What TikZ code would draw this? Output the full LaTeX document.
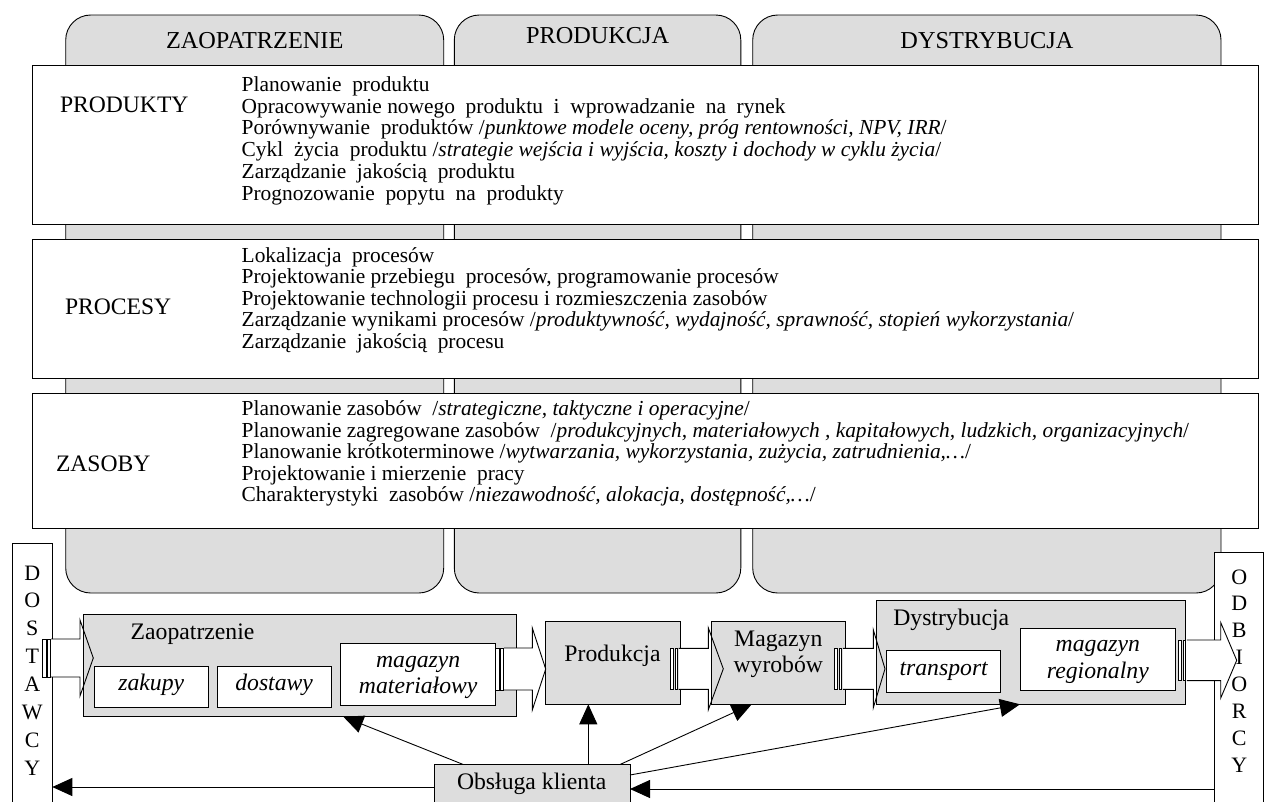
\documentclass[tikz,border=0pt]{standalone}
\usepackage{fontspec}
\setmainfont{Liberation Serif}
\usetikzlibrary{arrows.meta,calc}
\definecolor{pgray}{RGB}{221,221,221}
\newcommand\fbody{\fontsize{21.4}{21.5}\selectfont}
\newcommand\flab{\fontsize{23.6}{27}\selectfont}
\newcommand\fpan{\fontsize{24.3}{27}\selectfont}
\newcommand\fflow{\fontsize{23.7}{26}\selectfont}
\newcommand\blockarrow[5]{%
  \fill[white] let \p1=(#1), \p2=(#2) in (\x1+8.5pt,\y1+#3pt) rectangle (\x2-#5pt,\y1-#3pt);
  \draw[line join=miter] let \p1=(#1), \p2=(#2) in (\x1+8.5pt,\y1+#3pt) -- (\x2-#5pt,\y1+#3pt) -- (\x2-#5pt,\y1+#4pt) -- (\x2,\y1) -- (\x2-#5pt,\y1-#4pt) -- (\x2-#5pt,\y1-#3pt) -- (\x1+8.5pt,\y1-#3pt);
  \draw[fill=white] let \p1=(#1) in (\x1,\y1+#3pt) rectangle (\x1+3.5pt,\y1-#3pt) (\x1+5pt,\y1+#3pt) rectangle (\x1+7.5pt,\y1-#3pt);
}
\begin{document}
\begin{tikzpicture}[x=1pt,y=-1pt,line width=0.9pt,
  every node/.style={inner sep=0pt,outer sep=0pt},
  panel/.style={draw,fill=pgray,rounded corners=25pt},
  rowbox/.style={draw,fill=white},
  gbox/.style={draw,fill=pgray},
  wbox/.style={draw,fill=white},
  body/.style={anchor=base west,font=\fbody},
  rowlab/.style={anchor=base west,font=\flab},
  flow/.style={anchor=base,font=\fflow},
  iflow/.style={anchor=base,font=\fflow\itshape},
  arr/.style={-{Triangle[length=20pt,width=18pt]}}]
\useasboundingbox (0,0) rectangle (1264,801);
% column panels
\node[panel,minimum width=378pt,minimum height=578pt] (pz) at (254.7,304) {};
\node[panel,minimum width=286.5pt,minimum height=578pt] (pp) at (597.55,304) {};
\node[panel,minimum width=468.3pt,minimum height=578pt] (pd) at (986.85,304) {};
\node[anchor=base,font=\fpan] (tz) at (254.7,48.5) {ZAOPATRZENIE};
\node[anchor=base,font=\fpan] (tp) at (597.6,43.5) {PRODUKCJA};
\node[anchor=base,font=\fpan] (td) at (986.9,48.5) {DYSTRYBUCJA};
% row boxes
\node[rowbox,minimum width=1226pt,minimum height=159.5pt] (rprod) at (645.7,144.75) {};
\node[rowbox,minimum width=1226pt,minimum height=138.5pt] (rproc) at (645.7,308.75) {};
\node[rowbox,minimum width=1226pt,minimum height=135.5pt] (rzas) at (645.7,460.75) {};
\node[rowlab] (lprod) at (60,112.5) {PRODUKTY};
\node[rowlab] (lproc) at (65,314.7) {PROCESY};
\node[rowlab] (lzas) at (56,471) {ZASOBY};
% PRODUKTY lines
\node[body] (a1) at (241.7,91.5) {Planowanie~ produktu};
\node[body] (a2) at (241.7,113.2) {Opracowywanie nowego~ produktu~ i~ wprowadzanie~ na~ rynek};
\node[body] (a3) at (241.7,134.9) {Porównywanie~ produktów /\textit{punktowe modele oceny, próg rentowności, NPV, IRR}/};
\node[body] (a4) at (241.7,156.6) {Cykl~ życia~ produktu /\textit{strategie wejścia i wyjścia, koszty i dochody w cyklu życia}/};
\node[body] (a5) at (241.7,178.3) {Zarządzanie~ jakością~ produktu};
\node[body] (a6) at (241.7,200) {Prognozowanie~ popytu~ na~ produkty};
% PROCESY lines
\node[body] (b1) at (241.7,262) {Lokalizacja~ procesów};
\node[body] (b2) at (241.7,283.5) {Projektowanie przebiegu~ procesów, programowanie procesów};
\node[body] (b3) at (241.7,305) {Projektowanie technologii procesu i rozmieszczenia zasobów};
\node[body] (b4) at (241.7,326.5) {Zarządzanie wynikami procesów /\textit{produktywność, wydajność, sprawność, stopień wykorzystania}/};
\node[body] (b5) at (241.7,348) {Zarządzanie~ jakością~ procesu};
% ZASOBY lines
\node[body] (c1) at (241.7,415.5) {Planowanie zasobów~ /\textit{strategiczne, taktyczne i operacyjne}/};
\node[body] (c2) at (241.7,437) {Planowanie zagregowane zasobów~ /\textit{produkcyjnych, materiałowych , kapitałowych, ludzkich, organizacyjnych}/};
\node[body] (c3) at (241.7,458.5) {Planowanie krótkoterminowe /\textit{wytwarzania, wykorzystania, zużycia, zatrudnienia,…}/};
\node[body] (c4) at (241.7,480) {Projektowanie i mierzenie~ pracy};
\node[body] (c5) at (241.7,501.5) {Charakterystyki~ zasobów /\textit{niezawodność, alokacja, dostępność,…}/};
% side boxes
\node[wbox,minimum width=40pt,minimum height=262pt] (dost) at (32.3,674) {};
\node[align=center,font=\fontsize{22}{27.9}\selectfont] (dostt) at (32.3,670.5) {D\\O\\S\\T\\A\\W\\C\\Y};
\node[wbox,minimum width=48.7pt,minimum height=262pt] (odb) at (1238.65,683.7) {};
\node[align=center,font=\fontsize{22}{26.9}\selectfont] (odbt) at (1239.3,670.9) {O\\D\\B\\I\\O\\R\\C\\Y};
% flow boxes
\node[gbox,minimum width=433.4pt,minimum height=102.7pt] (zaop) at (300,665.35) {};
\node[flow,anchor=base west] (zaopt) at (130.7,639.3) {Zaopatrzenie};
\node[wbox,minimum width=114pt,minimum height=41.7pt] (zak) at (151.3,686.85) {};
\node[iflow] (zakt) at (151.3,690) {zakupy};
\node[wbox,minimum width=113.7pt,minimum height=41.7pt] (dos) at (274.15,686.85) {};
\node[iflow] (dost2) at (274.15,690) {dostawy};
\node[wbox,minimum width=155pt,minimum height=62.4pt] (mag) at (418.2,674.5) {};
\node[iflow] (mag1) at (418.2,667) {magazyn};
\node[iflow] (mag2) at (418.2,693) {materiałowy};
\node[gbox,minimum width=135pt,minimum height=83.3pt] (prod) at (613.2,662.65) {};
\node[flow] (prodt) at (612.5,661) {Produkcja};
\node[gbox,minimum width=134pt,minimum height=83.3pt] (mw) at (778.7,662.65) {};
\node[flow] (mw1) at (778.3,646) {Magazyn};
\node[flow] (mw2) at (778.3,672.7) {wyrobów};
\node[gbox,minimum width=309pt,minimum height=104.3pt] (dys) at (1030.5,652.15) {};
\node[flow,anchor=base west] (dyst) at (893.3,625) {Dystrybucja};
\node[wbox,minimum width=114pt,minimum height=42pt] (tr) at (943.7,671.7) {};
\node[iflow] (trt) at (943.7,675) {transport};
\node[wbox,minimum width=155.7pt,minimum height=62.4pt] (mr) at (1097.85,659.5) {};
\node[iflow] (mr1) at (1097.85,651.7) {magazyn};
\node[iflow] (mr2) at (1097.85,678.3) {regionalny};
\node[gbox,minimum width=196pt,minimum height=38pt] (obs) at (532,783.5) {};
\node[flow] (obst) at (531.7,789.3) {Obsługa klienta};
% block arrows
\coordinate (s1) at (42.7,658);   \coordinate (e1) at (93.3,658);
\coordinate (s2) at (mag.east |- 0,669); \coordinate (e2) at (prod.west |- 0,669);
\coordinate (s3) at (670,668.8);  \coordinate (e3) at (723.3,668.8);
\coordinate (s4) at (834.3,668.8); \coordinate (e4) at (885,668.8);
\coordinate (s5) at (1178.3,660.3); \coordinate (e5) at (1236.7,660.3);
\blockarrow{s1}{e1}{19}{38}{13.3}
\blockarrow{s2}{e2}{21}{41}{13.4}
\blockarrow{s3}{e3}{20.5}{41}{15}
\blockarrow{s4}{e4}{20.5}{39}{11.7}
\blockarrow{s5}{e5}{20.3}{37.8}{16}
% customer service connectors
\coordinate (t1) at ([xshift=260pt]zaop.south west);
\coordinate (t2) at ([xshift=-24.9pt]prod.south);
\draw[arr] ([xshift=-68.7pt]obs.north) -- (t1);
\draw[arr] (obs.north -| t2) -- (t2);
\draw[arr] ([xshift=88pt]obs.north) -- ([xshift=-27pt]mw.south);
\draw[arr] ([yshift=8.5pt]obs.east) -- ([xshift=-10.5pt]dys.south);
\draw[arr] ([yshift=-3.5pt]obs.west) -- ([yshift=-3.5pt]obs.west -| dost.east);
\draw[arr] ([yshift=-5.5pt]obs.east -| odb.west) -- ([yshift=-5.5pt]obs.east);
\end{tikzpicture}
\end{document}
